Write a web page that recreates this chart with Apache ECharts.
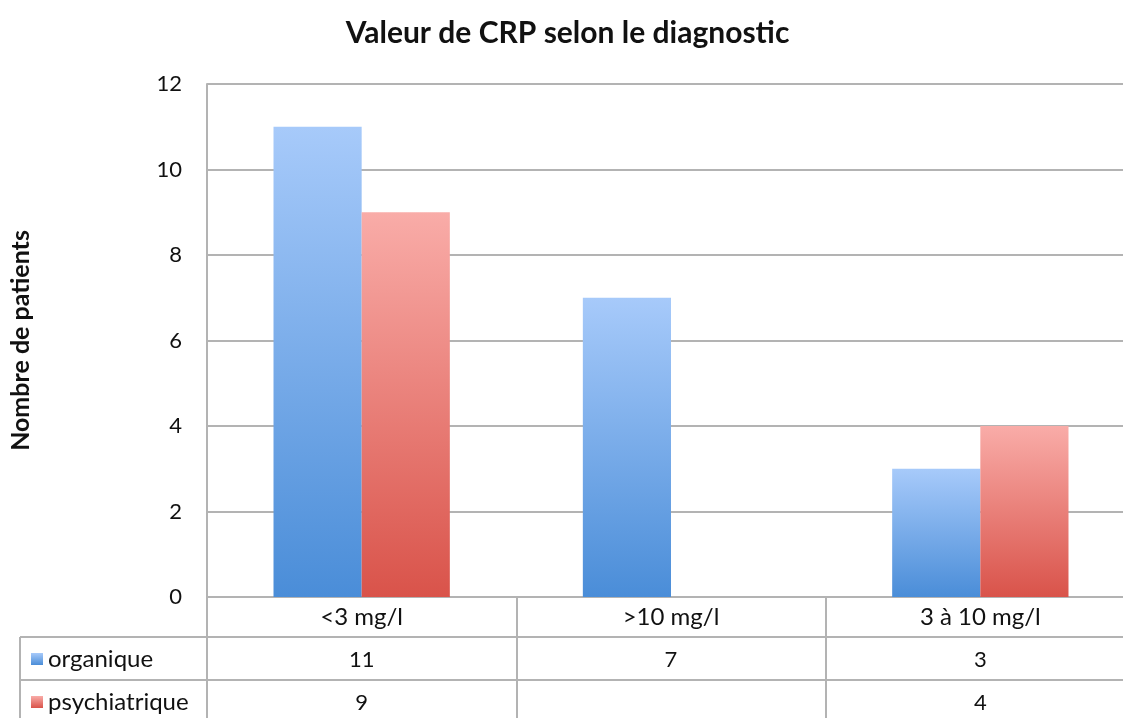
<!DOCTYPE html>
<html>
<head>
<meta charset="utf-8">
<script src="https://cdn.jsdelivr.net/npm/echarts@6/dist/echarts.min.js"></script>
<style>html,body{margin:0;padding:0;background:#fff;overflow:hidden;width:1123px;height:718px}#c{width:1135px;height:718px}</style>
</head>
<body>
<div id="c"></div>
<script>
const categories = ['<3 mg/l', '>10 mg/l', '3 à 10 mg/l'];
const organique = [11, 7, 3];
const psychiatrique = [9, null, 4];
const yTicks = [0, 2, 4, 6, 8, 10, 12];

const FONT = 'Lato';
const gridLine = '#b3b3b3';
const blueGrad = new echarts.graphic.LinearGradient(0, 0, 0, 1, [
  {offset: 0, color: '#a7cafa'}, {offset: 1, color: '#4a8dd8'}]);
const redGrad = new echarts.graphic.LinearGradient(0, 0, 0, 1, [
  {offset: 0, color: '#f9aca8'}, {offset: 1, color: '#d9534a'}]);

const chart = echarts.init(document.getElementById('c'));
const gridLeft = 205, gridTop = 84, gridHeight = 513, gridWidth = 930;

function rowAxis(offset, values) {
  return {
    type: 'category', data: categories, position: 'bottom', offset: offset,
    axisLine: {show: false}, axisTick: {show: false},
    axisLabel: {margin: 9, fontFamily: FONT, fontSize: 22, color: '#111',
      formatter: (v, i) => values[i] == null ? '' : String(values[i])}
  };
}

const legendCommon = {left: 31, orient: 'vertical', icon: 'rect', itemWidth: 12, itemHeight: 12,
  itemGap: 8, padding: 0, textStyle: {fontFamily: FONT, fontSize: 24, color: '#111'}};

chart.setOption({
  animation: false,
  title: {text: 'Valeur de CRP selon le diagnostic', left: 'center', top: 13,
    textStyle: {fontFamily: FONT, fontSize: 30, fontWeight: 'bold', color: '#111'}},
  legend: [
    Object.assign({data: ['organique'], top: 647}, legendCommon),
    Object.assign({data: ['psychiatrique'], top: 690}, legendCommon)
  ],
  grid: {left: gridLeft, top: gridTop, height: gridHeight, width: gridWidth, containLabel: false},
  xAxis: [
    {type: 'category', data: categories, position: 'bottom',
      axisLine: {show: true, lineStyle: {color: gridLine, width: 2}},
      axisTick: {show: true, length: 121, lineStyle: {color: gridLine, width: 2}},
      axisLabel: {margin: 8, fontFamily: FONT, fontSize: 24, color: '#111'}},
    rowAxis(43, organique),
    rowAxis(86, psychiatrique)
  ],
  yAxis: {
    type: 'value', min: yTicks[0], max: yTicks[yTicks.length - 1], interval: 2,
    name: 'Nombre de patients', nameLocation: 'middle', nameGap: 174, nameRotate: 90,
    nameTextStyle: {fontFamily: FONT, fontSize: 25, fontWeight: 'bold', color: '#111'},
    axisLine: {show: true, lineStyle: {color: gridLine, width: 2}},
    axisTick: {show: false},
    axisLabel: {margin: 25, fontFamily: FONT, fontSize: 22, color: '#111'},
    splitLine: {show: true, lineStyle: {color: gridLine, width: 2}}
  },
  series: [
    {name: 'organique', type: 'bar', data: organique, xAxisIndex: 0, barGap: '0%', barCategoryGap: '43%',
      itemStyle: {color: blueGrad}},
    {name: 'psychiatrique', type: 'bar', data: psychiatrique, xAxisIndex: 0, barGap: '0%', barCategoryGap: '43%',
      itemStyle: {color: redGrad}}
  ]
});

// table grid lines (row separators, left border)
const axisY = chart.convertToPixel({yAxisIndex: 0}, 0);
const row1 = axisY + 40, row2 = axisY + 83;
chart.setOption({
  graphic: [
    {type: 'line', shape: {x1: 20, y1: row1, x2: 1135, y2: row1}, style: {stroke: gridLine, lineWidth: 2}, silent: true},
    {type: 'line', shape: {x1: 20, y1: row2, x2: 1135, y2: row2}, style: {stroke: gridLine, lineWidth: 2}, silent: true},
    {type: 'line', shape: {x1: 20, y1: row1, x2: 20, y2: 718}, style: {stroke: gridLine, lineWidth: 2}, silent: true}
  ]
});
</script>
</body>
</html>
